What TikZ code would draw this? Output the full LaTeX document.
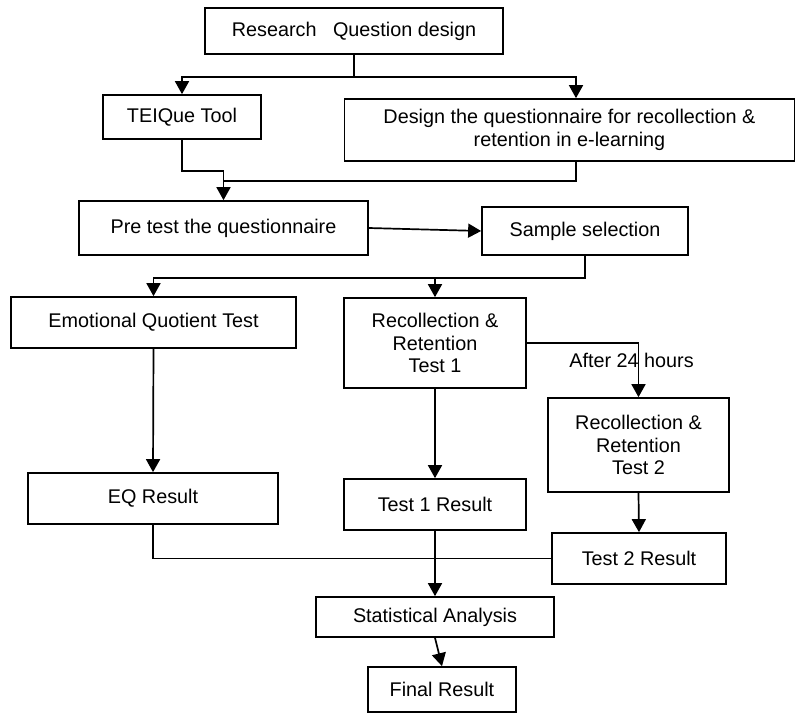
\documentclass[tikz,border=0pt]{standalone}
\usepackage{fontspec}
\setmainfont{Liberation Sans}
\usepackage{tikz}
\usetikzlibrary{arrows.meta,positioning,calc}

\begin{document}
\begin{tikzpicture}[
  x=1pt, y=-1pt,
  box/.style={rectangle, draw, line width=1.7pt, inner sep=0pt, align=center,
              font=\fontsize{19.8}{22.5}\selectfont},
  arrow/.style={-{Triangle[length=13pt,width=14pt]}, line width=1.7pt},
  line/.style={line width=1.7pt},
  lbl/.style={font=\fontsize{19.8}{22.5}\selectfont, inner sep=0pt}
]
\useasboundingbox (0,0) rectangle (796,713);

\node[box, minimum width=298pt, minimum height=46pt] (rq) at (354,31) {Research~~~Question design};
\node[box, minimum width=158pt, minimum height=44pt] (teique) at (182,117) {TEIQue Tool};
\node[box, minimum width=450pt, minimum height=62pt] (design) at (569.5,130)
  {Design the questionnaire for recollection \&\\retention in e-learning};
\node[box, minimum width=289pt, minimum height=54pt] (pretest) at (223.5,228) {Pre test the questionnaire};
\node[box, minimum width=206pt, minimum height=48pt] (sample) at (585,231) {Sample selection};
\node[box, minimum width=285pt, minimum height=51pt] (eqt) at (153.5,322.5) {Emotional Quotient Test};
\node[box, minimum width=182pt, minimum height=90pt] (r1) at (435,343) {Recollection \&\\Retention\\Test 1};
\node[box, minimum width=181pt, minimum height=94pt] (r2) at (638.5,445) {Recollection \&\\Retention\\Test 2};
\node[box, minimum width=250pt, minimum height=51pt] (eqr) at (153,498.5) {EQ Result};
\node[box, minimum width=182pt, minimum height=51pt] (t1r) at (435,504.5) {Test 1 Result};
\node[box, minimum width=174pt, minimum height=51pt] (t2r) at (639,558.5) {Test 2 Result};
\node[box, minimum width=238pt, minimum height=40pt] (stat) at (435,617) {Statistical Analysis};
\node[box, minimum width=148pt, minimum height=45pt] (final) at (442,689.5) {Final Result};

\coordinate (dtop) at ([xshift=6.5pt]design.north);
\coordinate (dbot) at ([xshift=6.5pt]design.south);
\coordinate (join) at (t1r.south |- t2r.west);

\draw[arrow] (rq.south) -- ++(0,22) -| (teique.north);
\draw[arrow] (rq.south) -- ++(0,22) -| (dtop);
\draw[arrow] (teique.south) -- ++(0,31) -| (pretest.north);
\draw[line] (dbot) |- (pretest.north |- 0,181);
\draw[arrow] (pretest.east) -- (sample.west);
\draw[arrow] (sample.south) -- ++(0,22) -| (eqt.north);
\draw[arrow] (sample.south) -- ++(0,22) -| (r1.north);
\draw[arrow] (r1.east) -| (r2.north) node[lbl, pos=0.66, xshift=-7pt] {After 24 hours};
\draw[arrow] (eqt.south) -- (eqr.north);
\draw[arrow] (r1.south) -- (t1r.north);
\draw[arrow] (r2.south) -- (t2r.north);
\draw[line] (eqr.south) |- (join);
\draw[line] (t2r.west) -- (join);
\draw[arrow] (t1r.south) -- (stat.north);
\draw[arrow] (stat.south) -- (final.north);

\end{tikzpicture}
\end{document}
